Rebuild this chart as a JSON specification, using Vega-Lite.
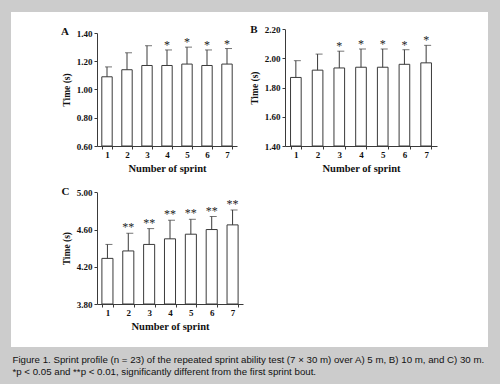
{
  "$schema": "https://vega.github.io/schema/vega-lite/v6.json",
  "width": 477,
  "height": 335,
  "autosize": "none",
  "padding": {"left": 11, "top": 12, "right": 12, "bottom": 37},
  "background": "#cccccc",
  "config": {
    "font": "Liberation Serif",
    "view": {"fill": "white", "stroke": null},
    "axis": {
      "grid": false,
      "domainColor": "#3a3a3a",
      "tickColor": "#3a3a3a",
      "tickSize": 3,
      "labelFont": "Liberation Serif",
      "labelFontWeight": "bold",
      "labelFontSize": 9,
      "labelColor": "#111111",
      "titleFont": "Liberation Serif",
      "titleFontWeight": "bold",
      "titleColor": "#111111"
    },
    "axisX": {"labelAngle": 0, "tickBand": "extent", "labelPadding": 1, "titleFontSize": 10.5, "titlePadding": 4},
    "axisY": {"labelPadding": 2, "titleFontSize": 9.5, "titlePadding": 5}
  },
  "title": {
    "text": [
      "Figure 1. Sprint profile (n = 23) of the repeated sprint ability test (7 × 30 m) over A) 5 m, B) 10 m, and C) 30 m.",
      "*p < 0.05 and **p < 0.01, significantly different from the first sprint bout."
    ],
    "orient": "bottom",
    "anchor": "start",
    "frame": "group",
    "offset": 8,
    "dx": 1.5,
    "font": "Liberation Sans",
    "fontSize": 9.7,
    "fontWeight": "normal",
    "color": "#111111",
    "lineHeight": 12
  },
  "datasets": {
    "A": [
      {"sprint": 1, "mean": 1.09, "upper": 1.16, "star": ""},
      {"sprint": 2, "mean": 1.14, "upper": 1.26, "star": ""},
      {"sprint": 3, "mean": 1.17, "upper": 1.31, "star": ""},
      {"sprint": 4, "mean": 1.17, "upper": 1.28, "star": "*"},
      {"sprint": 5, "mean": 1.18, "upper": 1.30, "star": "*"},
      {"sprint": 6, "mean": 1.17, "upper": 1.28, "star": "*"},
      {"sprint": 7, "mean": 1.18, "upper": 1.29, "star": "*"}
    ],
    "B": [
      {"sprint": 1, "mean": 1.87, "upper": 1.985, "star": ""},
      {"sprint": 2, "mean": 1.92, "upper": 2.03, "star": ""},
      {"sprint": 3, "mean": 1.935, "upper": 2.05, "star": "*"},
      {"sprint": 4, "mean": 1.94, "upper": 2.065, "star": "*"},
      {"sprint": 5, "mean": 1.94, "upper": 2.065, "star": "*"},
      {"sprint": 6, "mean": 1.96, "upper": 2.06, "star": "*"},
      {"sprint": 7, "mean": 1.97, "upper": 2.09, "star": "*"}
    ],
    "C": [
      {"sprint": 1, "mean": 4.29, "upper": 4.44, "star": ""},
      {"sprint": 2, "mean": 4.37, "upper": 4.56, "star": "**"},
      {"sprint": 3, "mean": 4.44, "upper": 4.61, "star": "**"},
      {"sprint": 4, "mean": 4.50, "upper": 4.70, "star": "**"},
      {"sprint": 5, "mean": 4.55, "upper": 4.71, "star": "**"},
      {"sprint": 6, "mean": 4.60, "upper": 4.74, "star": "**"},
      {"sprint": 7, "mean": 4.65, "upper": 4.81, "star": "**"}
    ]
  },
  "layer": [
    {
      "data": {"name": "A"},
      "layer": [
        {
          "mark": {"type": "bar", "fill": "white", "stroke": "#3a3a3a", "strokeWidth": 1},
          "encoding": {
            "x": {"field": "sprint", "type": "ordinal", "scale": {"range": [86, 226], "paddingInner": 0.48, "paddingOuter": 0.24}, "axis": {"orient": "bottom", "offset": -201, "title": "Number of sprint"}},
            "y": {"field": "mean", "type": "quantitative", "scale": {"domain": [0.6, 1.4], "range": [134, 21], "nice": false, "zero": false}, "axis": {"orient": "left", "offset": -86, "values": [0.6, 0.8, 1.0, 1.2, 1.4], "format": ".2f", "title": "Time (s)"}},
            "y2": {"datum": 0.6}
          }
        },
        {
          "mark": {"type": "rule", "color": "#3a3a3a", "strokeWidth": 1},
          "encoding": {
            "x": {"field": "sprint", "type": "ordinal"},
            "y": {"field": "mean", "type": "quantitative"},
            "y2": {"field": "upper"}
          }
        },
        {
          "mark": {"type": "tick", "color": "#3a3a3a", "size": 7, "thickness": 1, "xOffset": 1.5},
          "encoding": {
            "x": {"field": "sprint", "type": "ordinal"},
            "y": {"field": "upper", "type": "quantitative"}
          }
        },
        {
          "mark": {"type": "text", "baseline": "bottom", "align": "center", "fontSize": 12, "color": "#222222", "dy": 2},
          "encoding": {
            "x": {"field": "sprint", "type": "ordinal"},
            "y": {"field": "upper", "type": "quantitative"},
            "text": {"field": "star"}
          }
        },
        {
          "data": {"values": [{"letter": "A"}]},
          "mark": {"type": "text", "align": "center", "baseline": "middle", "fontSize": 11, "fontWeight": "bold", "color": "#111111", "dx": -42, "dy": -1},
          "encoding": {
            "x": {"datum": 1, "type": "ordinal"},
            "y": {"datum": 1.4, "type": "quantitative"},
            "text": {"field": "letter"}
          }
        }
      ]
    },
    {
      "data": {"name": "B"},
      "layer": [
        {
          "mark": {"type": "bar", "fill": "white", "stroke": "#3a3a3a", "strokeWidth": 1},
          "encoding": {
            "x": {"field": "sprint", "type": "ordinal", "scale": {"range": [274, 426], "paddingInner": 0.51, "paddingOuter": 0.255}, "axis": {"orient": "bottom", "offset": -201, "title": "Number of sprint"}},
            "y": {"field": "mean", "type": "quantitative", "scale": {"domain": [1.4, 2.2], "range": [134, 17.3], "nice": false, "zero": false}, "axis": {"orient": "left", "offset": -274, "values": [1.4, 1.6, 1.8, 2.0, 2.2], "format": ".2f", "title": "Time (s)"}},
            "y2": {"datum": 1.4}
          }
        },
        {
          "mark": {"type": "rule", "color": "#3a3a3a", "strokeWidth": 1},
          "encoding": {
            "x": {"field": "sprint", "type": "ordinal"},
            "y": {"field": "mean", "type": "quantitative"},
            "y2": {"field": "upper"}
          }
        },
        {
          "mark": {"type": "tick", "color": "#3a3a3a", "size": 7, "thickness": 1, "xOffset": 1.5},
          "encoding": {
            "x": {"field": "sprint", "type": "ordinal"},
            "y": {"field": "upper", "type": "quantitative"}
          }
        },
        {
          "mark": {"type": "text", "baseline": "bottom", "align": "center", "fontSize": 12, "color": "#222222", "dy": 2},
          "encoding": {
            "x": {"field": "sprint", "type": "ordinal"},
            "y": {"field": "upper", "type": "quantitative"},
            "text": {"field": "star"}
          }
        },
        {
          "data": {"values": [{"letter": "B"}]},
          "mark": {"type": "text", "align": "center", "baseline": "middle", "fontSize": 11, "fontWeight": "bold", "color": "#111111", "dx": -42, "dy": 1},
          "encoding": {
            "x": {"datum": 1, "type": "ordinal"},
            "y": {"datum": 2.2, "type": "quantitative"},
            "text": {"field": "letter"}
          }
        }
      ]
    },
    {
      "data": {"name": "C"},
      "layer": [
        {
          "mark": {"type": "bar", "fill": "white", "stroke": "#3a3a3a", "strokeWidth": 1},
          "encoding": {
            "x": {"field": "sprint", "type": "ordinal", "scale": {"range": [86, 232], "paddingInner": 0.47, "paddingOuter": 0.235}, "axis": {"orient": "bottom", "offset": -43, "title": "Number of sprint"}},
            "y": {"field": "mean", "type": "quantitative", "scale": {"domain": [3.8, 5.0], "range": [292, 180.3], "nice": false, "zero": false}, "axis": {"orient": "left", "offset": -86, "values": [3.8, 4.2, 4.6, 5.0], "format": ".2f", "title": "Time (s)"}},
            "y2": {"datum": 3.8}
          }
        },
        {
          "mark": {"type": "rule", "color": "#3a3a3a", "strokeWidth": 1},
          "encoding": {
            "x": {"field": "sprint", "type": "ordinal"},
            "y": {"field": "mean", "type": "quantitative"},
            "y2": {"field": "upper"}
          }
        },
        {
          "mark": {"type": "tick", "color": "#3a3a3a", "size": 7, "thickness": 1, "xOffset": 1.5},
          "encoding": {
            "x": {"field": "sprint", "type": "ordinal"},
            "y": {"field": "upper", "type": "quantitative"}
          }
        },
        {
          "mark": {"type": "text", "baseline": "bottom", "align": "center", "fontSize": 12, "color": "#222222", "dy": 1},
          "encoding": {
            "x": {"field": "sprint", "type": "ordinal"},
            "y": {"field": "upper", "type": "quantitative"},
            "text": {"field": "star"}
          }
        },
        {
          "data": {"values": [{"letter": "C"}]},
          "mark": {"type": "text", "align": "center", "baseline": "middle", "fontSize": 11, "fontWeight": "bold", "color": "#111111", "dx": -42, "dy": 0},
          "encoding": {
            "x": {"datum": 1, "type": "ordinal"},
            "y": {"datum": 5.0, "type": "quantitative"},
            "text": {"field": "letter"}
          }
        }
      ]
    }
  ],
  "resolve": {"scale": {"x": "independent", "y": "independent"}, "axis": {"x": "independent", "y": "independent"}}
}
